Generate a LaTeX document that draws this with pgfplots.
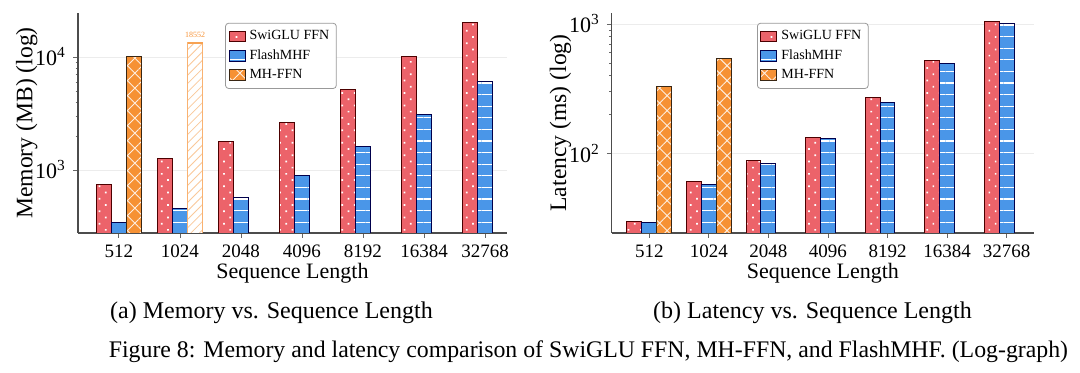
\documentclass[border=0pt]{standalone}
\usepackage{fontspec}
\setmainfont{Liberation Serif}
\usepackage{pgfplots}
\pgfplotsset{compat=1.18}
\usetikzlibrary{patterns.meta}
\definecolor{swred}{RGB}{236,99,106}
\definecolor{fblue}{RGB}{74,150,232}
\definecolor{mhorange}{RGB}{246,145,52}

\tikzset{
 swfill/.style={fill=swred, draw=black!70!red, line width=0.5pt,
   postaction={pattern color=white, pattern={Dots[radius=0.6pt, distance=4.4pt, angle=45]}}},
 fbfill/.style={fill=fblue, draw=black!70!blue, line width=0.5pt,
   postaction={pattern color=white, pattern={Lines[angle=0, distance=5.8pt, line width=0.55pt]}}},
 mhfill/.style={fill=mhorange, draw=black!70!brown, line width=0.5pt,
   postaction={pattern color=white!85!mhorange, pattern={Hatch[angle=45, distance=5.3pt, line width=0.45pt]}}},
}
\pgfplotsset{
   scale only axis, height=110pt,
   axis x line*=bottom, axis y line*=left, axis line style={black!70, line width=0.6pt, -},
   tick align=outside, major tick length=2.5pt, minor tick length=1.2pt,
   tick style={black!60, line width=0.4pt},
   xtick={0,...,6}, xticklabels={512,1024,2048,4096,8192,16384,32768},
   xticklabel style={font=\fontsize{9.5}{10}\selectfont},
   yticklabel style={font=\fontsize{11}{12}\selectfont},
   xlabel style={font=\fontsize{11}{12}\selectfont, yshift=4pt},
   ylabel style={font=\fontsize{11.8}{12}\selectfont},
   xlabel={Sequence Length},
   ylabel shift=-8pt,
   ymajorgrids, major grid style={gray!15, line width=0.4pt},
   legend style={anchor=north west, draw=gray!80, rounded corners=1.5pt,
     font=\fontsize{7}{8}\selectfont, row sep=-0.5pt, inner sep=1.5pt, cells={anchor=west}},
   legend image code/.code={\draw[#1, sharp corners] (0pt,-2.7pt) rectangle (8pt,2.7pt);},
}

\begin{document}
\begin{tikzpicture}
\useasboundingbox (0,0) rectangle (540pt,186.5pt);

% ---------------- (a) Memory ----------------
\begin{axis}[ymode=log, at={(39pt,70pt)}, anchor=south west, width=214.5pt,
  xmin=-0.67, xmax=6.36, ymin=277, ymax=24500,
  ytick={1000,10000}, yticklabels={10\textsuperscript{3},10\textsuperscript{4}},
  ylabel={Memory (MB) (log)},
  legend style={at={(0.343,0.955)}}]
\addplot[ybar, bar width=0.25, bar shift=-0.25, swfill] coordinates {(0,747) (1,1269) (2,1795) (3,2642) (4,5176) (5,10070) (6,20000)};
\addlegendentry{SwiGLU FFN}
\addplot[ybar, bar width=0.25, bar shift=0, fbfill] coordinates {(0,344) (1,452) (2,573) (3,898) (4,1630) (5,3070) (6,6040)};
\addlegendentry{FlashMHF}
\addplot[ybar, bar width=0.25, bar shift=0.25, mhfill] coordinates {(0,10000)};
\addlegendentry{MH-FFN}
\addplot[ybar, bar width=0.25, bar shift=0.25, fill=white, draw=mhorange!70, line width=0.5pt,
  postaction={pattern color=mhorange!50, pattern={Lines[angle=45, distance=3pt, line width=0.4pt]}},
  forget plot] coordinates {(1,13400)};
\addplot[only marks, mark=-, mark size=3.75pt, mark options={line width=1pt, draw=mhorange!85}, forget plot]
  coordinates {(1.25,13400)};
\node[font=\fontsize{4}{4}\selectfont, text=mhorange, above, inner sep=0.5pt] at (axis cs:1.25,14300) {18552};
\end{axis}

% ---------------- (b) Latency ----------------
\begin{axis}[ymode=log, at={(305.9pt,70pt)}, anchor=south west, width=211.1pt,
  xmin=-0.63, xmax=6.46, ymin=24.3, ymax=1216,
  ytick={100,1000}, yticklabels={10\textsuperscript{2},10\textsuperscript{3}},
  ylabel={Latency (ms) (log)},
  legend style={at={(0.344,0.955)}}]
\addplot[ybar, bar width=0.25, bar shift=-0.25, swfill] coordinates {(0,29.7) (1,60.2) (2,88.3) (3,133) (4,270) (5,520) (6,1036)};
\addlegendentry{SwiGLU FFN}
\addplot[ybar, bar width=0.25, bar shift=0, fbfill] coordinates {(0,29.2) (1,58) (2,83.6) (3,131) (4,248) (5,495) (6,1000)};
\addlegendentry{FlashMHF}
\addplot[ybar, bar width=0.25, bar shift=0.25, mhfill] coordinates {(0,330) (1,538)};
\addlegendentry{MH-FFN}
\end{axis}

\node[font=\fontsize{12}{13}\selectfont] at (135.75pt,30pt) {(a) Memory vs. Sequence Length};
\node[font=\fontsize{12}{13}\selectfont] at (406.25pt,30pt) {(b) Latency vs. Sequence Length};
\node[font=\fontsize{11.9}{13}\selectfont] at (294.25pt,10.5pt) {Figure 8: Memory and latency comparison of SwiGLU FFN, MH-FFN, and FlashMHF. (Log-graph)};
\end{tikzpicture}
\end{document}
